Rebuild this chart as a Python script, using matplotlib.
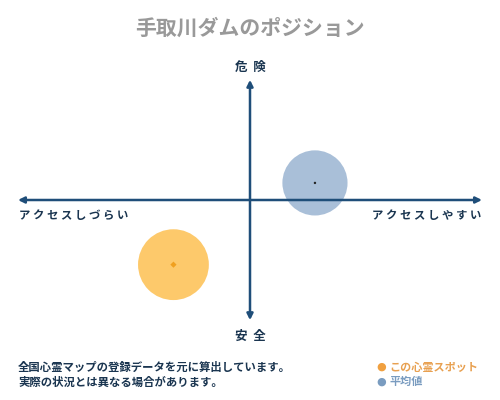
import matplotlib.pyplot as plt

plt.rcParams['font.family'] = ['Noto Sans CJK JP', 'DejaVu Sans']

title = "手取川ダムのポジション"
label_top = "危険"
label_bottom = "安全"
label_left = "アクセスしづらい"
label_right = "アクセスしやすい"

spot_name = "この心霊スポット"
spot_x = -0.33
spot_y = -0.53

avg_name = "平均値"
avg_x = 0.28
avg_y = 0.14

notes = ["全国心霊マップの登録データを元に算出しています。",
         "実際の状況とは異なる場合があります。"]

axis_color = "#1f4e79"
text_color = "#1a3550"


def spaced(s):
    return " ".join(s)


fig = plt.figure(figsize=(5, 4), dpi=100)
fig.patch.set_facecolor("white")

ax = fig.add_axes([18 / 500, 78 / 400, 464 / 500, 244 / 400])
ax.set_xlim(-1, 1)
ax.set_ylim(-1, 1)
ax.axis("off")

# circles
ax.scatter([spot_x], [spot_y], s=2600, color="#fdc96b", edgecolors="none", zorder=1)
ax.scatter([spot_x], [spot_y], s=10, color="#f0a020", marker="D", edgecolors="none", zorder=4)
ax.scatter([avg_x], [avg_y], s=2200, color="#a9bfd8", edgecolors="none", zorder=1)
ax.scatter([avg_x], [avg_y], s=3, color="#222222", edgecolors="none", zorder=4)

# axes arrows
arrow = dict(arrowstyle="<|-|>", color=axis_color, lw=1.8, mutation_scale=9,
             shrinkA=0, shrinkB=0)
ax.annotate("", xy=(1, 0), xytext=(-1, 0), arrowprops=arrow, zorder=3)
ax.annotate("", xy=(0, 0.985), xytext=(0, -0.985), arrowprops=arrow, zorder=3)

# labels
fig.text(0.5, 1 - 28 / 400, title, ha="center", va="center",
         fontsize=15, color="#999999", fontweight="bold")
fig.text(0.5, 1 - 67 / 400, "  ".join(label_top), ha="center", va="center",
         fontsize=9, color=text_color, fontweight="bold")
fig.text(0.5, 1 - 336 / 400, "  ".join(label_bottom), ha="center", va="center",
         fontsize=9, color=text_color, fontweight="bold")
fig.text(19 / 500, 1 - 216 / 400, spaced(label_left), ha="left", va="center",
         fontsize=8.2, color=text_color, fontweight="bold")
fig.text(481 / 500, 1 - 216 / 400, spaced(label_right), ha="right", va="center",
         fontsize=8.2, color=text_color, fontweight="bold")

# notes
for i, line in enumerate(notes):
    fig.text(18 / 500, 1 - (367 + 15 * i) / 400, line, ha="left", va="center",
             fontsize=8.2, color=text_color, fontweight="bold")

# legend
legend_items = [(spot_name, "#f0a040", "#e8a050"), (avg_name, "#7a9cc0", "#7a9cc0")]
for i, (name, dot_color, txt_color) in enumerate(legend_items):
    y = 1 - (367 + 15 * i) / 400
    fig.text(376 / 500, y, "●", ha="left", va="center", fontsize=8,
             color=dot_color, family="DejaVu Sans")
    fig.text(389 / 500, y, name, ha="left", va="center", fontsize=8,
             color=txt_color, fontweight="bold")

fig.savefig("out.png", dpi=100, facecolor="white")
